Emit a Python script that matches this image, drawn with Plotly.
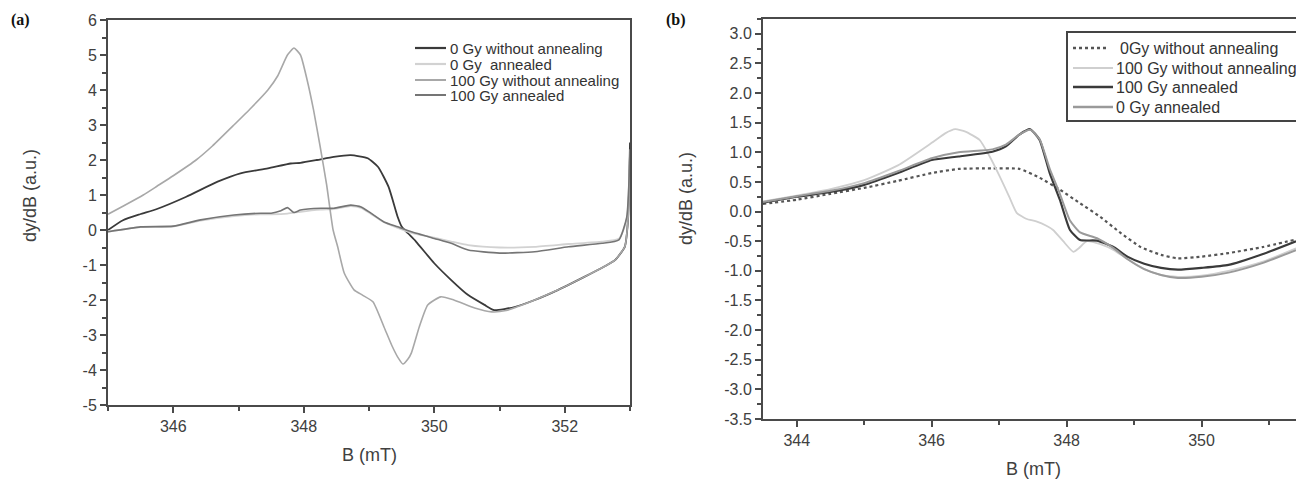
import plotly.graph_objects as go

# ---------------- Panel (a) data ----------------
a_x_0gy_raw = [345.0, 345.23, 345.49, 345.75, 346.2, 346.68, 347.03, 347.45, 347.8, 347.95, 348.2,
               348.46, 348.72, 348.98, 349.14, 349.3, 349.44, 349.5, 349.6, 349.72, 350.0, 350.26,
               350.52, 350.77, 350.92, 351.23, 351.54, 351.9, 352.3, 352.6, 352.77, 352.92, 352.97, 353.0]
a_y_0gy_raw = [0.0, 0.28, 0.45, 0.6, 0.95, 1.38, 1.62, 1.76, 1.9, 1.92, 2.0,
               2.09, 2.14, 2.05, 1.8, 1.23, 0.37, 0.1, -0.1, -0.33, -0.95, -1.43,
               -1.86, -2.14, -2.29, -2.2, -2.0, -1.71, -1.34, -1.05, -0.86, -0.48, 0.3, 2.5]

a_x_0gy_ann = [345.0, 345.5, 346.0, 346.42, 346.93, 347.34, 347.5, 347.75, 347.95, 348.26, 348.46,
               348.72, 348.88, 349.03, 349.23, 349.44, 349.65, 350.0, 350.26, 350.52, 351.0, 351.54,
               352.06, 352.57, 352.83, 352.95, 353.0]
a_y_0gy_ann = [-0.05, 0.08, 0.1, 0.27, 0.4, 0.45, 0.45, 0.47, 0.52, 0.58, 0.6,
               0.68, 0.63, 0.46, 0.22, 0.06, -0.08, -0.22, -0.33, -0.43, -0.5, -0.48,
               -0.4, -0.33, -0.25, 0.3, 2.2]

a_x_100gy_raw = [345.0, 345.25, 345.54, 345.75, 346.0, 346.35, 346.6, 346.93, 347.2, 347.45, 347.6, 347.75,
                 347.85, 347.95, 348.05, 348.15, 348.25, 348.35, 348.45, 348.52, 348.62, 348.77, 348.9,
                 349.06, 349.23, 349.35, 349.44, 349.52, 349.6, 349.65, 349.77, 349.9, 350.1, 350.3,
                 350.62, 350.88, 351.1, 351.54, 351.9, 352.3, 352.6, 352.77, 352.92, 352.97, 353.0]
a_y_100gy_raw = [0.45, 0.7, 1.0, 1.25, 1.55, 2.0, 2.4, 3.0, 3.5, 4.0, 4.4, 5.0,
                 5.2, 5.0, 4.3, 3.43, 2.4, 1.3, 0.0, -0.48, -1.23, -1.71, -1.86,
                 -2.05, -2.77, -3.3, -3.63, -3.83, -3.68, -3.51, -2.77, -2.14, -1.91, -2.0,
                 -2.23, -2.34, -2.3, -2.0, -1.71, -1.34, -1.05, -0.86, -0.48, 0.3, 2.3]

a_x_100gy_ann = [345.0, 345.5, 346.0, 346.42, 346.93, 347.34, 347.5, 347.65, 347.75, 347.85, 347.95, 348.26,
                 348.46, 348.72, 348.88, 349.03, 349.23, 349.44, 349.65, 350.0, 350.26, 350.52, 351.0,
                 351.54, 352.06, 352.57, 352.83, 352.95, 353.0]
a_y_100gy_ann = [-0.05, 0.09, 0.11, 0.29, 0.43, 0.48, 0.48, 0.55, 0.64, 0.5, 0.57, 0.62,
                 0.62, 0.71, 0.66, 0.48, 0.23, 0.09, -0.05, -0.24, -0.38, -0.57, -0.66,
                 -0.62, -0.48, -0.38, -0.28, 0.37, 2.3]

# ---------------- Panel (b) data ----------------
b_x_0gy_raw = [343.5, 344.0, 344.5, 345.0, 345.5, 346.0, 346.4, 346.9, 347.3, 347.6, 347.9, 348.2,
               348.5, 348.8, 349.1, 349.4, 349.65, 350.0, 350.4, 350.9, 351.4]
b_y_0gy_raw = [0.13, 0.2, 0.3, 0.4, 0.52, 0.65, 0.72, 0.73, 0.72, 0.57, 0.37, 0.14,
               -0.09, -0.36, -0.6, -0.73, -0.79, -0.76, -0.7, -0.6, -0.47]

b_x_100gy_raw = [343.5, 344.0, 344.5, 345.0, 345.5, 346.0, 346.2, 346.35, 346.5, 346.71, 346.85, 347.01,
                 347.15, 347.26, 347.4, 347.56, 347.7, 347.8, 347.95, 348.1, 348.18, 348.3, 348.5,
                 348.7, 348.9, 349.15, 349.4, 349.65, 350.0, 350.4, 350.9, 351.4]
b_y_100gy_raw = [0.17, 0.27, 0.38, 0.53, 0.78, 1.16, 1.32, 1.39, 1.35, 1.21, 0.95, 0.59,
                 0.25, -0.02, -0.12, -0.17, -0.24, -0.31, -0.5, -0.68, -0.62, -0.5, -0.55,
                 -0.65, -0.8, -0.97, -1.07, -1.1, -1.08, -1.0, -0.85, -0.62]

b_x_100gy_ann = [343.5, 344.0, 344.5, 345.0, 345.5, 346.0, 346.4, 346.9, 347.1, 347.3, 347.46, 347.6,
                 347.75, 347.9, 348.05, 348.2, 348.45, 348.7, 348.9, 349.15, 349.4, 349.65, 350.0,
                 350.4, 350.9, 351.4]
b_y_100gy_ann = [0.15, 0.25, 0.33, 0.45, 0.65, 0.87, 0.93, 1.01, 1.1, 1.3, 1.39, 1.21,
                 0.65, 0.2, -0.31, -0.48, -0.49, -0.6, -0.76, -0.88, -0.95, -0.98, -0.95,
                 -0.9, -0.72, -0.5]

b_x_0gy_ann = [343.5, 344.0, 344.5, 345.0, 345.5, 346.0, 346.4, 346.9, 347.1, 347.3, 347.46, 347.6,
               347.75, 347.9, 348.05, 348.2, 348.45, 348.7, 348.9, 349.15, 349.4, 349.65, 350.0,
               350.4, 350.9, 351.4]
b_y_0gy_ann = [0.16, 0.26, 0.35, 0.48, 0.68, 0.9, 1.0, 1.05, 1.13, 1.3, 1.38, 1.22,
               0.72, 0.3, -0.15, -0.35, -0.45, -0.62, -0.8, -0.97, -1.07, -1.12, -1.1,
               -1.03, -0.87, -0.65]

# ---------------- Tick labels / legend labels ----------------
a_xtick_vals = [346, 348, 350, 352]
a_xtick_text = ["346", "348", "350", "352"]
a_ytick_vals = [-5, -4, -3, -2, -1, 0, 1, 2, 3, 4, 5, 6]
a_ytick_text = ["-5", "-4", "-3", "-2", "-1", "0", "1", "2", "3", "4", "5", "6"]
b_xtick_vals = [344, 346, 348, 350]
b_xtick_text = ["344", "346", "348", "350"]
b_ytick_vals = [-3.5, -3.0, -2.5, -2.0, -1.5, -1.0, -0.5, 0.0, 0.5, 1.0, 1.5, 2.0, 2.5, 3.0]
b_ytick_text = ["-3.5", "-3.0", "-2.5", "-2.0", "-1.5", "-1.0", "-0.5", "0.0", "0.5", "1.0",
                "1.5", "2.0", "2.5", "3.0"]
a_legend_labels = ["0 Gy without annealing", "0 Gy  annealed", "100 Gy without annealing", "100 Gy annealed"]
b_legend_labels = ["0Gy without annealing", "100 Gy without annealing", "100 Gy annealed", "0 Gy annealed"]

W, H = 1296, 481
FONT = "Liberation Sans, Arial, sans-serif"
AX = "#4a4a4a"
TXT = "#404040"

a_styles = [("#3a3a3a", 1.8, "solid"), ("#d2d2d2", 1.8, "solid"), ("#a8a8a8", 1.6, "solid"), ("#757575", 1.6, "solid")]
b_styles = [("#555555", 2.2, "dot"), ("#cfcfcf", 1.8, "solid"), ("#3a3a3a", 2.2, "solid"), ("#9a9a9a", 2.0, "solid")]

fig = go.Figure()

def line(x, y, name, style, xa, ya):
    color, width, dash = style
    fig.add_trace(go.Scatter(
        x=x, y=y, name=name, mode="lines", showlegend=False,
        line=dict(color=color, width=width, dash=dash, shape="spline", smoothing=0.5),
        xaxis=xa, yaxis=ya, hoverinfo="skip"))

a_series = [(a_x_0gy_raw, a_y_0gy_raw), (a_x_0gy_ann, a_y_0gy_ann),
            (a_x_100gy_raw, a_y_100gy_raw), (a_x_100gy_ann, a_y_100gy_ann)]
b_series = [(b_x_0gy_raw, b_y_0gy_raw), (b_x_100gy_raw, b_y_100gy_raw),
            (b_x_100gy_ann, b_y_100gy_ann), (b_x_0gy_ann, b_y_0gy_ann)]
for (x, y), name, st in zip(a_series, a_legend_labels, a_styles):
    line(x, y, name, st, "x", "y")
for (x, y), name, st in zip(b_series, b_legend_labels, b_styles):
    line(x, y, name, st, "x2", "y2")

axis_common = dict(showline=True, linewidth=2, linecolor=AX, ticks="outside", tickcolor=AX,
                   tickwidth=1.5, ticklen=6, showgrid=False, zeroline=False,
                   tickfont=dict(family=FONT, size=16, color=TXT))

fig.update_layout(
    width=W, height=H,
    margin=dict(l=0, r=0, t=0, b=0, autoexpand=False),
    paper_bgcolor="white", plot_bgcolor="white",
    showlegend=False,
    xaxis=dict(domain=[108 / W, 630 / W], range=[345, 353], anchor="y", mirror=True,
               tickvals=a_xtick_vals, ticktext=a_xtick_text,
               minor=dict(ticks="outside", dtick=1, tick0=345, ticklen=4, tickcolor=AX, tickwidth=1.5),
               **axis_common),
    yaxis=dict(domain=[1 - 405 / H, 1 - 20 / H], range=[-5, 6], anchor="x", mirror=True,
               tickvals=a_ytick_vals, ticktext=a_ytick_text,
               minor=dict(ticks="outside", dtick=0.5, tick0=0, ticklen=4, tickcolor=AX, tickwidth=1.5),
               **axis_common),
    xaxis2=dict(domain=[763 / W, 1.0], range=[343.5, 351.4], anchor="y2", mirror=True,
                tickvals=b_xtick_vals, ticktext=b_xtick_text,
                minor=dict(ticks="outside", dtick=1, tick0=343, ticklen=4, tickcolor=AX, tickwidth=1.5),
                **axis_common),
    yaxis2=dict(domain=[1 - 419 / H, 1 - 19 / H], range=[-3.5, 3.25], anchor="x2", mirror=False,
                tickvals=b_ytick_vals, ticktext=b_ytick_text,
                minor=dict(ticks="outside", dtick=0.25, tick0=0, ticklen=4, tickcolor=AX, tickwidth=1.5),
                **axis_common),
)

def px(xp):
    return xp / W

def py(yp):
    return 1 - yp / H

shapes = []
annotations = []

# legend (a): no frame
a_rows = [48, 64, 80, 95]
for label, st, yr in zip(a_legend_labels, a_styles, a_rows):
    color, width, dash = st
    shapes.append(dict(type="line", xref="paper", yref="paper", x0=px(415), x1=px(446), y0=py(yr), y1=py(yr),
                       line=dict(color=color, width=width + 0.4, dash=dash)))
    annotations.append(dict(text=label, x=px(448), y=py(yr), xref="paper", yref="paper", xanchor="left",
                            yanchor="middle", showarrow=False, font=dict(family=FONT, size=15, color="#333")))

# legend (b): framed box (runs past the right edge, as in the reference)
shapes.append(dict(type="rect", xref="paper", yref="paper", x0=px(1067), x1=px(1310), y0=py(121), y1=py(32),
                   line=dict(color="#444", width=2), fillcolor="white", layer="above"))
b_rows = [48, 68, 87, 107]
for label, st, yr in zip(b_legend_labels, b_styles, b_rows):
    color, width, dash = st
    x1 = 1109 if dash == "dot" else 1113
    xt = 1118 if dash == "dot" else 1114
    shapes.append(dict(type="line", xref="paper", yref="paper", x0=px(1073), x1=px(x1), y0=py(yr), y1=py(yr),
                       line=dict(color=color, width=width + 0.3, dash=dash), layer="above"))
    annotations.append(dict(text=label, x=px(xt), y=py(yr), xref="paper", yref="paper", xanchor="left",
                            yanchor="middle", showarrow=False, font=dict(family=FONT, size=16, color="#333")))

annotations += [
    dict(text="<b>(a)</b>", x=px(9), y=py(20), xref="paper", yref="paper", xanchor="left",
         yanchor="middle", showarrow=False, font=dict(family="Liberation Serif, Times New Roman, serif", size=16, color="#111")),
    dict(text="<b>(b)</b>", x=px(664), y=py(20), xref="paper", yref="paper", xanchor="left",
         yanchor="middle", showarrow=False, font=dict(family="Liberation Serif, Times New Roman, serif", size=16, color="#111")),
    dict(text="dy/dB (a.u.)", x=px(30), y=py(196), xref="paper", yref="paper", xanchor="center",
         yanchor="middle", textangle=-90, showarrow=False, font=dict(family=FONT, size=18, color=TXT)),
    dict(text="dy/dB (a.u.)", x=px(686), y=py(199), xref="paper", yref="paper", xanchor="center",
         yanchor="middle", textangle=-90, showarrow=False, font=dict(family=FONT, size=18, color=TXT)),
    dict(text="B (mT)", x=px(369), y=py(455), xref="paper", yref="paper", xanchor="center",
         yanchor="middle", showarrow=False, font=dict(family=FONT, size=18, color=TXT)),
    dict(text="B (mT)", x=px(1033), y=py(469), xref="paper", yref="paper", xanchor="center",
         yanchor="middle", showarrow=False, font=dict(family=FONT, size=18, color=TXT)),
]
fig.update_layout(shapes=shapes, annotations=annotations)

fig.write_html("out.html")
